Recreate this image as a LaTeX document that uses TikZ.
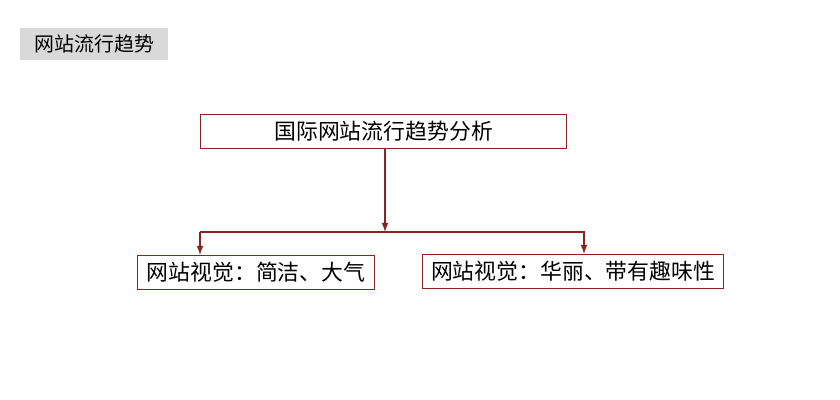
\documentclass[tikz,border=0pt]{standalone}
\usepackage{fontspec}
\newfontfamily\cjk{Noto Sans CJK SC}[Scale=0.95]
\definecolor{boxred}{HTML}{8B2323}
\definecolor{titlegray}{HTML}{D9D9D9}
\begin{document}
\begin{tikzpicture}[x=0.5pt, y=-0.5pt, font=\cjk,
    topic/.style={draw=boxred, semithick, inner sep=0pt, anchor=north west},
    link/.style={draw=boxred, semithick, -latex}]
      \useasboundingbox (0,0) rectangle (840,400);
      \node[fill=titlegray, minimum width=74pt, minimum height=15pt, anchor=north west, font=\cjk\fontsize{10.5}{12}\selectfont] (title) at (20,28) {网站流行趋势};
      \node[topic, minimum width=183pt, minimum height=17pt, font=\cjk\fontsize{11.5}{13}\selectfont] (main) at (200,114) {国际网站流行趋势分析};
      \node[topic, minimum width=118.5pt, minimum height=17pt, font=\cjk\fontsize{11.5}{13}\selectfont] (simple) at (137,255) {网站视觉：简洁、大气};
      \node[topic, minimum width=150.5pt, minimum height=17pt, font=\cjk\fontsize{11.5}{13}\selectfont] (rich) at (422,254) {网站视觉：华丽、带有趣味性};

      \coordinate (bar) at (385,232);
      \coordinate (barl) at (200,232);
      \coordinate (barr) at (584,232);

      \draw[link] (main.south -| bar) -- (bar);
      \draw[link] (barl) -- (barr) -- (barr |- rich.north);
      \draw[link] (barr -| barl) -- (barl |- simple.north);
    \end{tikzpicture}
\end{document}
